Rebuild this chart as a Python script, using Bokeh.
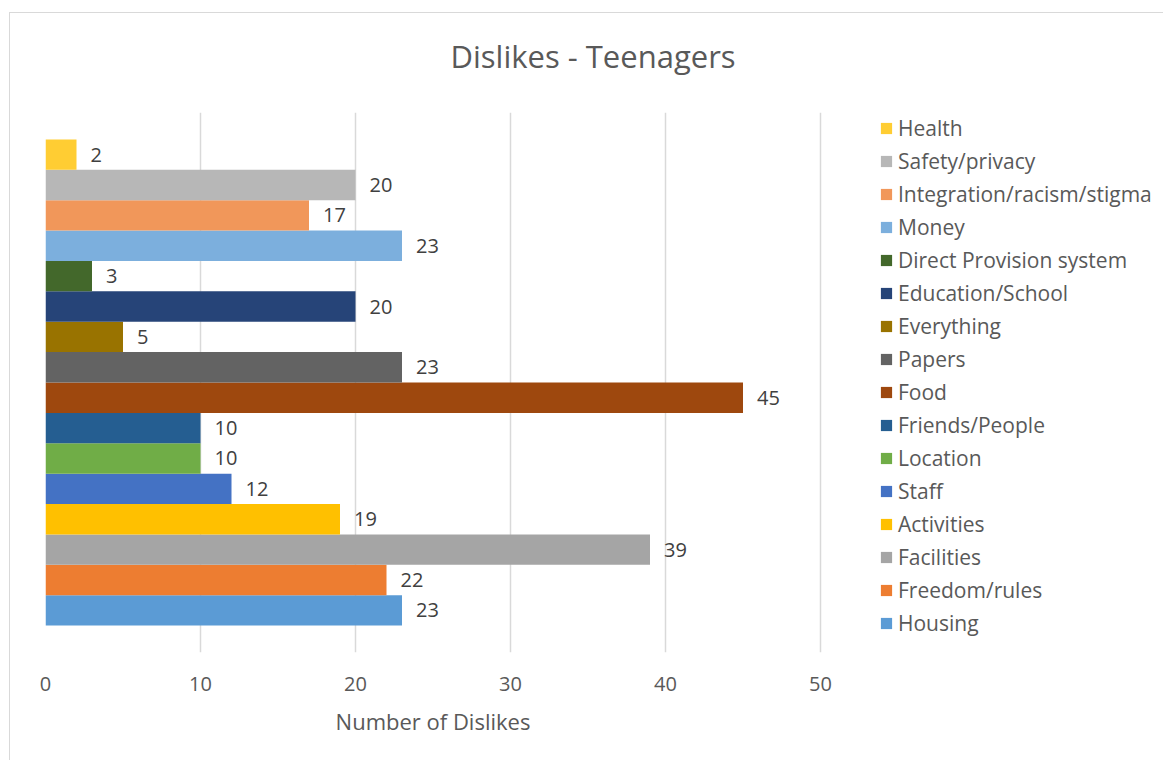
from bokeh.plotting import figure
from bokeh.models import (ColumnDataSource, Legend, LegendItem, Range1d, FixedTicker,
                          LinearAxis, Grid)
from bokeh.core.properties import value
from bokeh.embed import file_html
from bokeh.resources import INLINE

# Series in plotting order (bottom to top)
categories = ["Housing", "Freedom/rules", "Facilities", "Activities", "Staff", "Location",
              "Friends/People", "Food", "Papers", "Everything", "Education/School",
              "Direct Provision system", "Money", "Integration/racism/stigma",
              "Safety/privacy", "Health"]
dislikes = [23, 22, 39, 19, 12, 10, 10, 45, 23, 5, 20, 3, 23, 17, 20, 2]
colors = ["#5B9BD5", "#ED7D31", "#A5A5A5", "#FFC000", "#4472C4", "#70AD47",
          "#255E91", "#9E480E", "#636363", "#997300", "#264478", "#43682B",
          "#7CAFDD", "#F1975A", "#B7B7B7", "#FFCD33"]
x_ticks = [0, 10, 20, 30, 40, 50]
title_text = "Dislikes - Teenagers"
x_title = "Number of Dislikes"

FONT = "Open Sans"

# geometry (pixels)
W, H = 1154, 748
LEFT, TOP, BOTTOM = 35, 99, 109
AXIS_PX = 775  # pixel length of the 0..50 axis
frame_w = W - LEFT
x_max = x_ticks[-1] * frame_w / AXIS_PX

src = ColumnDataSource(dict(
    y=list(range(len(categories))),
    v=dislikes,
    c=colors,
    lab=[str(d) for d in dislikes],
    name=categories,
))

p = figure(width=W, height=H, output_backend="svg", toolbar_location=None,
           x_range=Range1d(0, x_max), y_range=Range1d(-1.388, 16.388),
           y_axis_location=None, x_axis_location=None, title=title_text + "\n",
           min_border_left=LEFT, min_border_right=0, min_border_top=TOP,
           min_border_bottom=BOTTOM)
p.outline_line_color = None
p.background_fill_color = "white"
p.border_fill_color = "white"
p.styles = {"margin-left": "9px", "margin-top": "12px",
            "border-left": "1px solid #d9d9d9", "border-top": "1px solid #d9d9d9"}

p.title.align = "left"
p.title.offset = 405
p.title.standoff = 0
p.title.text_line_height = 0.85
p.title.text_font = FONT
p.title.text_font_size = "31px"
p.title.text_font_style = "normal"
p.title.text_color = "#595959"

r = p.hbar(y="y", right="v", left=0, height=1.0, fill_color="c", line_color=None, source=src)

p.text(x="v", y="y", text="lab", source=src, x_offset=14, text_align="left",
       text_baseline="middle", text_font=value(FONT), text_font_size="20px",
       text_color="#404040")

ticker = FixedTicker(ticks=x_ticks)
ax = LinearAxis(ticker=ticker)
ax.axis_line_color = None
ax.major_tick_line_color = None
ax.minor_tick_line_color = None
ax.major_label_standoff = 18
ax.major_label_text_font = FONT
ax.major_label_text_font_size = "20px"
ax.major_label_text_color = "#595959"
p.add_layout(ax, "below")

# axis title centred under the 0..50 axis
mid = (x_ticks[0] + x_ticks[-1]) / 2
ax2 = LinearAxis(ticker=FixedTicker(ticks=[mid]), major_label_overrides={mid: x_title})
ax2.axis_line_color = None
ax2.major_tick_line_color = None
ax2.minor_tick_line_color = None
ax2.major_label_standoff = 6
ax2.major_label_text_font = FONT
ax2.major_label_text_font_size = "22px"
ax2.major_label_text_color = "#595959"
p.add_layout(ax2, "below")

p.xgrid.grid_line_color = None
p.ygrid.grid_line_color = None
grid = Grid(dimension=0, ticker=ticker, grid_line_color="#d9d9d9", grid_line_width=1.5)
p.add_layout(grid)

items = [LegendItem(label=categories[i], renderers=[r], index=i)
         for i in reversed(range(len(categories)))]
legend = Legend(items=items, location=(834, 12.5), orientation="vertical",
                glyph_width=14, glyph_height=14, label_height=33, spacing=0,
                padding=0, margin=0, label_standoff=5,
                border_line_color=None, background_fill_alpha=0,
                label_text_font=FONT, label_text_font_size="21px",
                label_text_color="#595959")
p.add_layout(legend, "center")

open("out.html", "w").write(file_html(p, INLINE))
